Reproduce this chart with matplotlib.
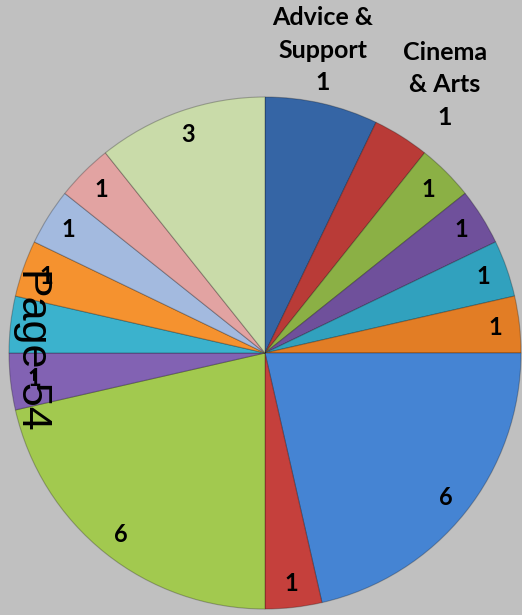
import numpy as np
import matplotlib
matplotlib.use("Agg")
import matplotlib.pyplot as plt

# === Chart data (clockwise from 12 o'clock) ===
wedge_sizes = [2, 1, 1, 1, 1, 1, 6, 1, 6, 1, 1, 1, 1, 1, 3]
wedge_labels = ["1", "1", "1", "1", "1", "1", "6", "1", "6", "1", "", "1", "1", "1", "3"]
outside_names = {0: "Advice &\nSupport", 1: "Cinema\n& Arts"}
wedge_colors = [
    "#3565a5", "#b93b37", "#8bb045", "#6f509b", "#31a1be", "#e27d25",
    "#4584d3", "#c5403c", "#a2c94f", "#8262b3", "#3bb2cd", "#f5922f",
    "#a3badf", "#e2a3a2", "#c9dba9",
]
page_text = "Page-54"

# === Figure: 1 data unit == 1 pixel ===
W, H = 522, 615
fig = plt.figure(figsize=(W / 100, H / 100), dpi=100)
fig.patch.set_facecolor("#c0c0c0")
ax = fig.add_axes([0, 0, 1, 1])
ax.set_facecolor("#c0c0c0")

cx, cy, R = 265, H - 353, 256
wedges, _ = ax.pie(
    wedge_sizes,
    colors=wedge_colors,
    startangle=90,
    counterclock=False,
    radius=R,
    center=(cx, cy),
    wedgeprops=dict(edgecolor="#00000040", linewidth=0.8),
)
ax.set_xlim(0, W)
ax.set_ylim(0, H)
ax.set_aspect("equal")
ax.axis("off")

font = ["Lato", "DejaVu Sans"]

# inside value labels
for i, w in enumerate(wedges):
    if i in outside_names or not wedge_labels[i]:
        continue
    mid = np.deg2rad((w.theta1 + w.theta2) / 2)
    r = 0.905 * R
    ax.text(cx + r * np.cos(mid), cy + r * np.sin(mid), wedge_labels[i],
            ha="center", va="center", fontsize=17, fontweight="bold",
            family=font, color="black")

# outside name labels
outside_pos = {0: (323, H - 50), 1: (445, H - 85)}
for i, name in outside_names.items():
    x, y = outside_pos[i]
    ax.text(x, y, name + "\n" + wedge_labels[i], ha="center", va="center",
            fontsize=18, fontweight="bold", family=font, color="black",
            linespacing=1.5)

# page marker drawn over the chart
ax.text(29, H - 352, page_text, rotation=-90, ha="center", va="center",
        fontsize=31, family=["Liberation Sans", "DejaVu Sans"], color="black")

fig.savefig("out.png", dpi=100, facecolor=fig.get_facecolor())
